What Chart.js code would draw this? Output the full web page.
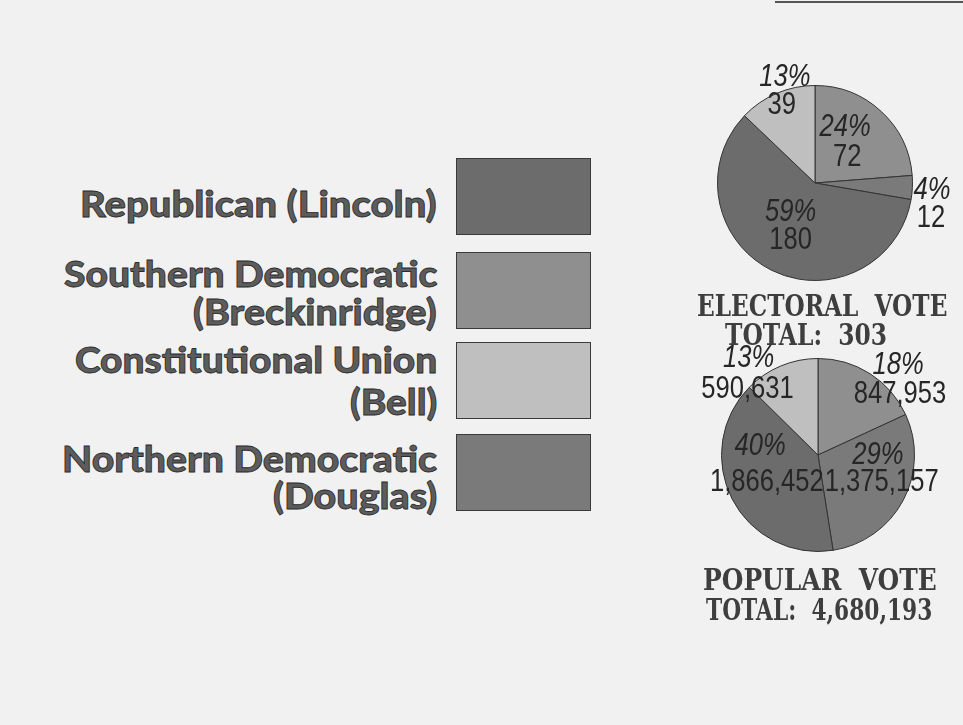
<!DOCTYPE html>
<html>
<head>
<meta charset="utf-8">
<script src="https://cdn.jsdelivr.net/npm/chart.js@4.4.0/dist/chart.umd.min.js"></script>
<style>
  html, body { margin: 0; padding: 0; }
  body { width: 963px; height: 725px; position: relative; overflow: hidden; background: #f1f1f1; }
  .topline { position: absolute; left: 775px; top: 1px; width: 188px; height: 2px; background: #555; }
  .leg { position: absolute; white-space: nowrap; font-family: Lato, "Open Sans", sans-serif; font-weight: 900;
         font-size: 36px; line-height: 28px; color: #5c5c5c; -webkit-text-stroke: 0.8px #2a2a2a; transform-origin: right center; }
  .box { position: absolute; box-sizing: border-box; border: 1px solid #3a3a3a; }
  .ttl { position: absolute; white-space: pre; font-family: "DejaVu Serif", serif; font-weight: bold;
         font-size: 30px; line-height: 22px; color: #3e3e3e; transform-origin: left center; }
  canvas { position: absolute; }
</style>
</head>
<body>
<div class="topline"></div>
<canvas id="electoral" width="263" height="250" style="left:700px; top:60px;"></canvas>
<canvas id="popular" width="283" height="230" style="left:680px; top:340px;"></canvas>
<script>
// parties in legend order
var partyNames = ['Republican', 'Southern Democratic', 'Constitutional Union', 'Northern Democratic'];
var candidates = ['Lincoln', 'Breckinridge', 'Bell', 'Douglas'];
var partyColors = ['#6c6c6c', '#8f8f8f', '#bfbfbf', '#7a7a7a'];

var electoralVotes = [180, 72, 39, 12];
var popularVotes = [1866452, 847953, 590631, 1375157];

// slices go clockwise from 12 o'clock in this order
var sliceOrder = [1, 3, 0, 2];

var electoralTitle = ['ELECTORAL  VOTE', 'TOTAL:  303'];
var popularTitle = ['POPULAR  VOTE', 'TOTAL:  4,680,193'];

// label spots, in units of the radius from the pie centre: [pctX, pctY, valX, valY]
var electoralLabelPos = [[-0.25, 0.30, -0.25, 0.59], [0.31, -0.57, 0.33, -0.26], [-0.31, -1.09, -0.34, -0.80], [1.20, 0.07, 1.19, 0.36]];
var popularLabelPos = [[-0.60, -0.09, -0.53, 0.28], [0.83, -0.93, 0.85, -0.63], [-0.72, -1.00, -0.73, -0.68], [0.62, 0.00, 0.66, 0.28]];

// legend layout: lines, baselines, widths, box rows
var legendLines = [
  [partyNames[0] + ' (' + candidates[0] + ')'],
  [partyNames[1], '(' + candidates[1] + ')'],
  [partyNames[2], '(' + candidates[2] + ')'],
  [partyNames[3], '(' + candidates[3] + ')']
];
var legendBaselines = [[217], [287, 325], [373, 415], [472, 509]];
var legendWidths = [[357], [373, 244], [362, 87], [375, 164]];
var boxTops = [158, 252, 342, 434];

function fit(el, w)
{
    var k = w / el.offsetWidth;
    el.style.transform = 'scaleX(' + k + ')';
}

function buildLegend()
{
    legendLines.forEach(function(lines, i) {
        lines.forEach(function(txt, j) {
            var d = document.createElement('div');
            d.className = 'leg';
            d.textContent = txt;
            d.style.right = (963 - 437) + 'px';
            d.style.top = (legendBaselines[i][j] - 28) + 'px';
            document.body.appendChild(d);
            fit(d, legendWidths[i][j]);
        });
        var b = document.createElement('div');
        b.className = 'box';
        b.style.left = '456px';
        b.style.top = boxTops[i] + 'px';
        b.style.width = '135px';
        b.style.height = '77px';
        b.style.background = partyColors[i];
        document.body.appendChild(b);
    });
}

function addTitle(txt, x, baseline, w)
{
    var d = document.createElement('div');
    d.className = 'ttl';
    d.textContent = txt;
    d.style.left = x + 'px';
    d.style.top = (baseline - 21) + 'px';
    document.body.appendChild(d);
    fit(d, w);
}

// narrow text: squeeze horizontally around the given centre
function narrowText(ctx, txt, x, y)
{
    ctx.save();
    ctx.translate(x, y);
    ctx.scale(0.8, 1);
    ctx.fillText(txt, 0, 0);
    ctx.restore();
}

var sliceLabels = {
    id: 'sliceLabels',
    afterDatasetsDraw(chart, args, opts) {
        var ctx = chart.ctx;
        var meta = chart.getDatasetMeta(0);
        var data = chart.data.datasets[0].data;
        var total = data.reduce(function(a, b) { return a + b; }, 0);
        meta.data.forEach(function(arc, k) {
            var i = sliceOrder[k];
            var p = opts.pos[i];
            var r = arc.outerRadius;
            var v = data[k];
            ctx.save();
            ctx.textAlign = 'center';
            ctx.textBaseline = 'middle';
            ctx.fillStyle = '#262626';
            ctx.font = "italic 32px 'Liberation Sans', Arial, sans-serif";
            narrowText(ctx, Math.round(v / total * 100) + '%', arc.x + p[0] * r, arc.y + p[1] * r);
            ctx.font = "32px 'Liberation Sans', Arial, sans-serif";
            narrowText(ctx, v.toLocaleString('en-US'), arc.x + p[2] * r, arc.y + p[3] * r);
            ctx.restore();
        });
    }
};

function makePie(id, values, pos, pad)
{
    var ctx = document.getElementById(id);
    return new Chart(ctx, {
        type: 'pie',
        data: {
            labels: sliceOrder.map(function(i) { return partyNames[i]; }),
            datasets: [{
                data: sliceOrder.map(function(i) { return values[i]; }),
                backgroundColor: sliceOrder.map(function(i) { return partyColors[i]; }),
                borderColor: '#333333',
                borderWidth: 1
            }]
        },
        options: {
            responsive: false,
            animation: false,
            events: [],
            layout: { padding: pad },
            plugins: {
                legend: { display: false },
                tooltip: { enabled: false },
                sliceLabels: { pos: pos }
            }
        },
        plugins: [sliceLabels]
    });
}

buildLegend();
addTitle(electoralTitle[0], 697, 316, 250);
addTitle(electoralTitle[1], 725, 345, 162);
addTitle(popularTitle[0], 703, 590, 234);
addTitle(popularTitle[1], 706, 620, 226);

makePie('electoral', electoralVotes, electoralLabelPos, { left: 17, right: 50, top: 25, bottom: 29 });
makePie('popular', popularVotes, popularLabelPos, { left: 41, right: 48, top: 18, bottom: 18 });
</script>
</body>
</html>
